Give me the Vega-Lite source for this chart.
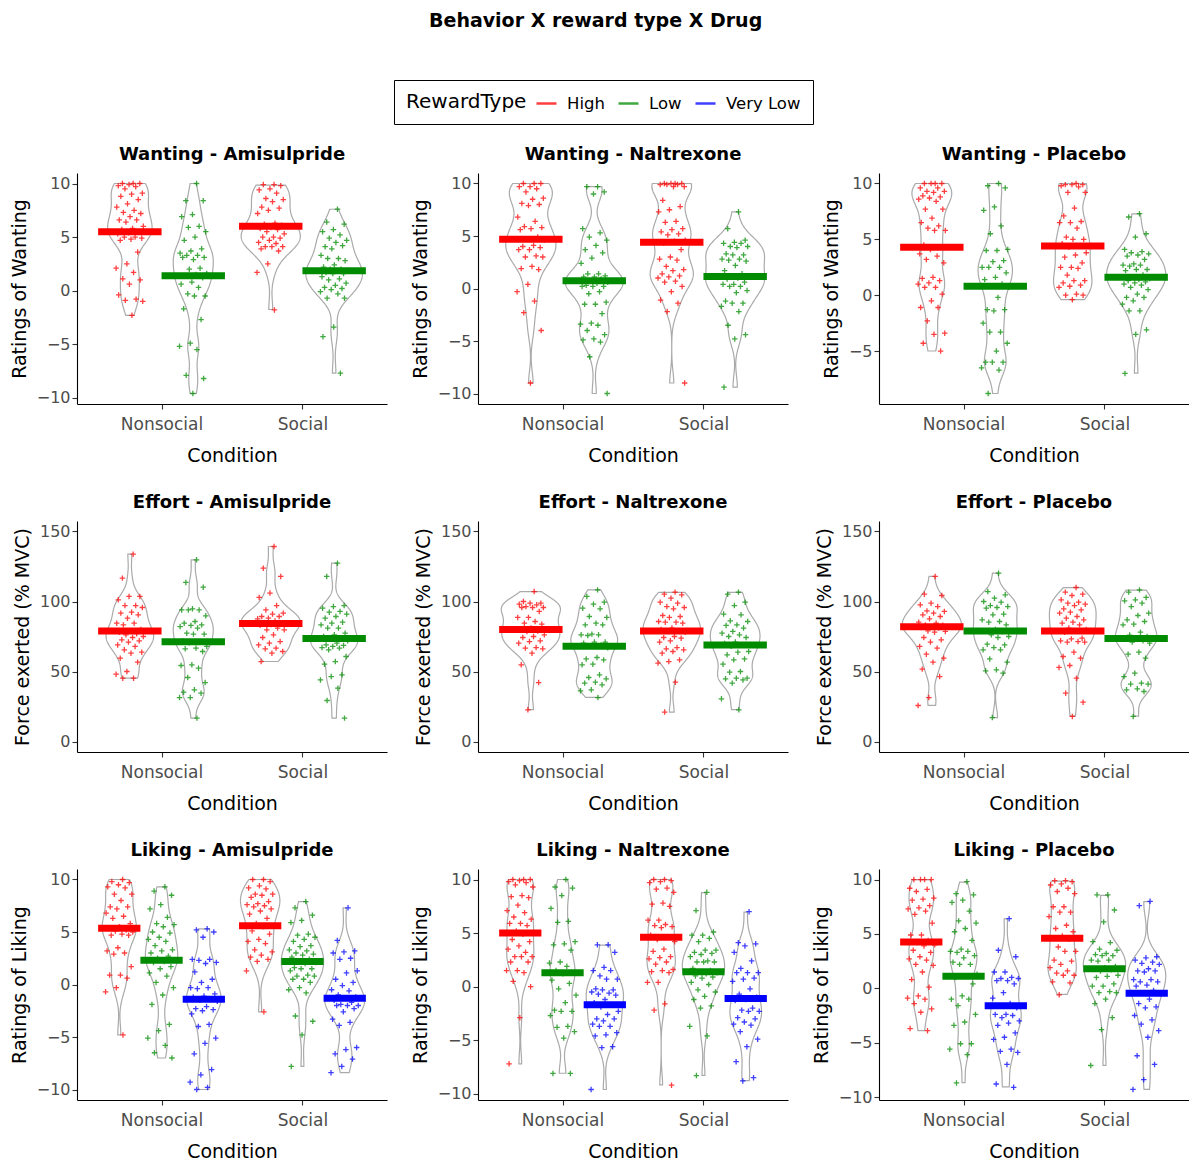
{
"$schema":"https://vega.github.io/schema/vega-lite/v6.json",
"padding":{"left":10,"top":11,"right":0,"bottom":0},
"title":{"text":"Behavior X reward type X Drug","anchor":"middle","fontSize":19,"fontWeight":"bold","offset":30,"dx":-4,"baseline":"bottom","color":"#000000"},
"datasets":{
"pts":[
{"b":"Wanting","d":"Amisulpride","c":"Nonsocial","r":"High","v":[10,10,10,9.9,9.8,9.7,9.5,9.1,9.0,8.8,8.5,8.1,7.8,7.5,7.3,7.2,6.9,6.6,6.6,6.4,6.0,5.8,5.7,5.5,5.4,5.3,5.0,5.0,4.9,4.8,4.7,3.6,2.5,2.1,1.7,1.1,1.0,0.6,-0.4,-0.8,-0.9,-1.0,-2.3]},
{"b":"Wanting","d":"Amisulpride","c":"Nonsocial","r":"Low","v":[10,8.4,8.4,7.1,6.9,6.0,5.9,5.5,5.0,4.7,3.9,3.7,3.5,3.3,3.3,3.1,2.9,3.1,2.1,2.0,1.6,1.5,1.4,1.2,0.8,0.6,0.3,-0.3,-0.5,-0.5,-1.7,-2.7,-4.9,-5.2,-5.5,-7.9,-8.2,-9.6]},
{"b":"Wanting","d":"Amisulpride","c":"Social","r":"High","v":[9.9,9.9,9.8,9.5,9.4,9.1,8.6,8.5,8.3,7.8,7.7,7.5,7.2,6.3,6.2,6.1,5.9,5.8,5.7,5.5,5.3,5.0,5.0,4.9,4.7,4.5,4.4,4.1,4.1,4.1,3.9,3.7,2.5,1.7,-1.8]},
{"b":"Wanting","d":"Amisulpride","c":"Social","r":"Low","v":[7.6,6.4,6.2,5.7,5.5,5.2,4.9,4.7,4.5,4.1,4.2,3.9,3.3,3.0,3.0,2.8,2.4,2.2,2.0,2.0,1.9,1.8,1.7,1.6,1.6,1.3,1.1,1.0,0.7,0.5,0.3,0.2,0.1,-0.1,-0.3,-0.7,-0.7,-3.4,-4.3,-7.7]},
{"b":"Wanting","d":"Naltrexone","c":"Nonsocial","r":"High","v":[10,10,10,9.7,9.7,9.5,9.2,8.6,8.5,8.1,8.0,7.9,6.8,6.4,5.9,5.8,5.7,5.6,4.9,4.7,4.6,4.1,4.0,3.9,3.7,3.7,3.1,3.0,3.0,2.1,1.9,1.8,0.4,-0.3,-1.2,-2.3,-4.0,-9.0]},
{"b":"Wanting","d":"Naltrexone","c":"Nonsocial","r":"Low","v":[9.7,9.7,9.2,9.0,5.7,5.3,4.9,4.6,4.1,3.7,3.4,2.9,2.4,1.4,1.4,1.2,1.1,1.1,0.9,0.7,0.6,0.5,0.3,0.2,0.2,0.2,-0.3,-0.5,-1.3,-1.5,-1.5,-2.4,-3.3,-3.4,-3.5,-4.0,-4.4,-4.8,-4.9,-5.1,-6.5,-10.0]},
{"b":"Wanting","d":"Naltrexone","c":"Social","r":"High","v":[10,10,10,10,9.9,9.9,9.9,9.7,9.7,8.4,7.8,7.5,7.3,6.4,6.3,5.7,5.6,5.4,5.2,5.1,4.6,4.5,4.3,3.7,3.0,2.8,2.7,2.1,1.8,1.7,1.4,1.2,1.1,1.0,0.7,0.6,0.2,-0.3,-1.1,-1.4,-2.2,-9.0]},
{"b":"Wanting","d":"Naltrexone","c":"Social","r":"Low","v":[7.3,5.7,4.6,4.4,4.3,4.3,4.0,4.0,3.9,3.3,3.2,3.2,2.8,2.8,2.7,2.6,2.2,1.7,1.4,1.2,1.1,1.0,0.9,0.6,0.4,0.4,0.2,0.2,-0.2,-0.4,-1.2,-1.4,-1.4,-1.7,-2.2,-3.5,-4.4,-4.8,-9.4]},
{"b":"Wanting","d":"Placebo","c":"Nonsocial","r":"High","v":[10,10,10,10,9.6,9.6,9.3,9.3,9.2,8.9,8.8,8.7,8.6,8.4,7.7,7.7,6.9,6.5,6.2,6.0,5.8,5.8,4.5,4.3,4.1,3.7,3.5,3.2,2.9,1.6,1.5,1.3,1.1,1.0,0.7,0.7,0.1,-0.5,-1.1,-1.1,-2.3,-3.4,-3.5,-4.3,-5.0]},
{"b":"Wanting","d":"Placebo","c":"Nonsocial","r":"Low","v":[10.0,9.8,9.6,7.9,7.6,6.2,5.5,4.1,4.0,4.0,3.1,3.0,2.5,2.5,2.5,2.0,1.6,1.4,1.0,0.8,0.7,-0.2,-1.3,-1.3,-1.4,-2.5,-3.3,-3.3,-4.3,-5.0,-6.0,-6.0,-6.0,-6.5,-6.7,-8.8]},
{"b":"Wanting","d":"Placebo","c":"Social","r":"High","v":[10,9.9,9.9,9.9,9.8,9.7,9.2,9.2,7.8,7.1,6.6,6.5,6.5,6.0,5.2,5.0,5.0,4.6,4.4,4.3,3.8,3.6,3.4,2.9,2.5,2.5,2.4,1.8,1.3,1.3,1.1,0.9,0.8,0.7,0.1,0.0,0.0,-0.4]},
{"b":"Wanting","d":"Placebo","c":"Social","r":"Low","v":[7.3,7.0,5.5,5.2,4.1,3.9,3.8,3.7,3.6,3.5,3.2,2.8,2.7,2.7,2.6,2.3,2.3,2.2,1.8,1.6,1.5,1.4,1.3,1.2,1.1,1.0,0.9,0.7,0.5,0.1,-0.2,-0.2,-0.5,-0.8,-1.4,-1.4,-3.1,-3.5,-7.0]},
{"b":"Effort","d":"Amisulpride","c":"Nonsocial","r":"High","v":[133.8,116.7,103.6,103.6,101.2,97.1,97.1,95.7,92.4,91.7,90.5,88.1,84.5,84.5,83.3,80,79,78,77,76.2,75.0,74.3,72.6,71.9,71.0,69.0,67.9,65.5,63.8,63.1,59.5,56.7,50,48.1,45.2,45.2]},
{"b":"Effort","d":"Amisulpride","c":"Nonsocial","r":"Low","v":[129.8,113.6,110.2,94.8,94.0,94.0,94.0,89.8,85.7,84.5,83.3,82.9,82.1,81.0,77.4,76.7,76.7,72,71,70.5,67.9,66.7,66.2,64.3,54.8,54.3,52.4,45.7,42.1,36.9,35.2,34.5,31.4,31.4,16.7]},
{"b":"Effort","d":"Amisulpride","c":"Social","r":"High","v":[139.3,123.8,117.9,106,102.9,97.1,94,91.7,91,89.3,89.3,88.1,87.6,86,85,84,83.5,83,81,79.8,79.8,76.2,74.3,71.4,70.2,69,66.7,66.2,64.3,63.1,57.1]},
{"b":"Effort","d":"Amisulpride","c":"Social","r":"Low","v":[127.4,117.9,97.1,96.4,95.2,92.9,92.4,91,89.3,88.1,85.2,84.5,83.3,81,81,77.4,76.2,75,74,73,72,70.2,69,68.6,67.9,67.1,66.7,65.5,60.7,57.1,55.2,47.6,46.4,44,38.1,29.3,16.7]},
{"b":"Effort","d":"Naltrexone","c":"Nonsocial","r":"High","v":[107.1,100,98.8,98.8,98.1,97.6,96.4,95.7,95.7,95.7,92.9,88.6,88.6,85.7,84.5,83.8,81,80,79,78.5,76.2,75,74.3,71.9,71.4,70.2,67.1,66.7,66.2,63.1,54.8,42.1,22.6]},
{"b":"Effort","d":"Naltrexone","c":"Nonsocial","r":"Low","v":[108.3,103.6,99.5,98.1,95.2,94.8,89.3,88.6,84.5,83.3,83.3,76.7,76.2,76.2,75.7,71,71,70.2,69,68,67,60,59,58.3,55.2,54.8,47.6,45.7,44.8,42.4,41.7,40.5,36.9,36.2,31.4]},
{"b":"Effort","d":"Naltrexone","c":"Social","r":"High","v":[106.7,105.2,104.8,102.4,99.5,98.8,96.4,95.7,94.8,90,89.3,88.6,85.7,85.2,85.2,84.5,81,80,79,78.5,78,75,74.3,73.8,71.9,71,67.1,66.2,65.5,64.3,63.1,58.3,57.1,56,42.4,21]},
{"b":"Effort","d":"Naltrexone","c":"Social","r":"Low","v":[106.7,105.2,99.5,97.1,91,90.5,86.2,85.7,83.3,82.9,81,78.6,77.4,76.2,75,74.3,71,70,69,68,64.3,63.8,61.9,59,58.3,55.2,50,49.5,45.2,45.2,44.8,44,41.7,30.5,22.6]},
{"b":"Effort","d":"Placebo","c":"Nonsocial","r":"High","v":[117.9,105.2,104.3,98.8,97.6,96.4,93.3,92.9,91.7,90.5,89.3,87.6,85.2,84.5,83.3,83,82,81.5,81,79,78.6,78.1,74.3,72.6,71,67.9,66.7,62.4,59.5,56.7,51.7,46.4,31.4,25.7]},
{"b":"Effort","d":"Placebo","c":"Nonsocial","r":"Low","v":[120.2,107.1,104.8,102.4,100,99.5,97.1,96.4,95.7,95.2,91,90.5,86.9,85.7,85.2,83.3,80,79,78.5,76.2,75,74.3,69.5,69,67.1,65.5,65.5,59,56.7,51.2,50.5,48.8,17.1]},
{"b":"Effort","d":"Placebo","c":"Social","r":"High","v":[110,106.7,105.2,104.3,101.2,99.5,98.8,98.1,97.1,94.8,94,92.4,91.7,89.3,88.1,86.9,85.2,84.5,83.3,81,80,79,78,73.8,73.3,71.9,71.4,71,71,63.8,60.7,59.5,54.3,52.9,45.2,34.5,28.1,17.9]},
{"b":"Effort","d":"Placebo","c":"Social","r":"Low","v":[108.3,106.7,102.9,101.2,100.5,98.8,96.4,91.7,90,86.9,85.7,83.8,83.3,78.1,76,75,74,73,72,71,70.2,63.8,62.4,59.5,48.8,46.4,41.7,41,41,37.6,36.9,35.7,17.9]},
{"b":"Liking","d":"Amisulpride","c":"Nonsocial","r":"High","v":[10,9.8,9.7,9.5,9.3,9.2,8.6,8.6,8.0,7.4,7.4,7.2,6.8,6.5,6.3,5.8,5.5,5.4,5.2,5.1,5.0,4.8,4.7,4.7,3.5,3.2,3.0,2.9,1.7,0.9,0.9,0.6,-0.3,-0.7,-4.8]},
{"b":"Liking","d":"Amisulpride","c":"Nonsocial","r":"Low","v":[9.3,8.9,8.5,7.6,7.2,6.4,5.8,5.7,5.5,5.0,4.9,4.5,4.3,4.1,3.7,3.3,3.2,3.0,2.7,2.5,2.3,2.2,2.1,1.7,1.5,1.1,0.8,0.2,-0.3,-1.0,-1.9,-3.8,-4.4,-5.1,-5.8,-6.5,-7.0]},
{"b":"Liking","d":"Amisulpride","c":"Nonsocial","r":"Very Low","v":[5.3,5.2,5.0,4.5,2.4,2.4,2.3,2.1,2.0,1.2,0.5,0.2,-0.3,-0.3,-0.4,-0.9,-1.1,-1.2,-1.4,-1.5,-1.6,-2.1,-2.3,-2.4,-2.5,-2.8,-3.8,-4.0,-5.1,-5.6,-6.6,-8.1,-8.6,-9.3,-9.8,-10.0]},
{"b":"Liking","d":"Amisulpride","c":"Social","r":"High","v":[10,10,9.8,9.4,9.2,9.1,8.6,8.6,8.5,8.3,7.9,7.7,7.6,7.5,7.4,7.2,7.0,6.7,6.3,5.8,5.6,5.5,5.1,4.8,4.3,4.1,3.9,3.3,3.1,2.8,2.6,2.4,2.2,1.3,-2.6]},
{"b":"Liking","d":"Amisulpride","c":"Social","r":"Low","v":[7.9,7.3,6.6,6.1,5.9,4.8,4.7,4.5,4.3,4.1,3.7,3.6,3.3,3.2,3.0,2.9,2.8,2.6,2.4,2.2,2.1,2.0,1.6,1.5,1.5,1.3,0.9,0.8,0.8,0.5,0.5,0.2,-0.3,-0.5,-0.8,-3.0,-3.5,-4.8,-7.8]},
{"b":"Liking","d":"Amisulpride","c":"Social","r":"Very Low","v":[7.3,4.2,3.2,3.1,3.0,2.5,2.4,1.3,1.1,0.5,0.2,-0.1,-0.5,-0.6,-1.0,-1.2,-1.3,-1.5,-1.7,-1.9,-2.0,-2.0,-2.0,-2.3,-2.6,-3.3,-3.6,-3.9,-6.0,-6.2,-6.6,-7.1,-7.8,-8.4]},
{"b":"Liking","d":"Naltrexone","c":"Nonsocial","r":"High","v":[10,10,10,9.9,9.8,9.7,9.5,9.3,8.5,8.4,8.3,7.6,7.1,6.9,6.5,6.3,5.9,5.9,5.7,5.2,5.0,4.9,4.4,4.2,3.8,3.5,3.2,2.8,2.8,2.8,2.3,2.3,1.5,1.5,1.3,0.5,0.0,-2.9,-7.2]},
{"b":"Liking","d":"Naltrexone","c":"Nonsocial","r":"Low","v":[10,9.3,9.2,8.5,7.3,6.1,6.0,4.2,4.0,3.9,3.4,2.3,2.2,1.9,1.5,1.3,1.2,0.6,0.3,-0.2,-0.8,-1.5,-2.2,-2.3,-2.3,-2.7,-3.7,-3.8,-4.2,-4.8,-8.1,-8.1]},
{"b":"Liking","d":"Naltrexone","c":"Nonsocial","r":"Very Low","v":[3.9,3.9,3.2,1.8,1.5,1.5,1.0,0.7,0.7,-0.2,-0.3,-0.3,-0.5,-0.6,-0.7,-0.8,-1.2,-1.5,-1.7,-1.9,-2.3,-2.6,-3.0,-3.0,-3.2,-3.5,-3.7,-3.7,-4.3,-4.5,-4.6,-5.6,-5.7,-9.6]},
{"b":"Liking","d":"Naltrexone","c":"Social","r":"High","v":[10,10,9.9,9.8,9.7,9.2,9.1,8.8,7.8,7.7,7.5,6.2,6.2,5.8,5.7,5.6,5.5,4.8,4.6,4.4,4.2,3.5,3.3,2.8,2.7,2.6,2.3,2.1,1.6,1.5,1.4,1.3,0.4,0.4,-1.6,-2.2,-9.2]},
{"b":"Liking","d":"Naltrexone","c":"Social","r":"Low","v":[8.8,7.1,5.1,4.8,4.8,4.5,4.2,3.4,3.4,3.2,3.1,3.0,2.8,2.4,2.3,2.3,2.3,1.7,1.5,1.4,1.3,1.2,1.0,0.9,0.8,0.4,0.2,-0.3,-0.5,-0.9,-1.2,-1.8,-2.0,-3.7,-4.6,-8.3]},
{"b":"Liking","d":"Naltrexone","c":"Social","r":"Very Low","v":[7.0,4.1,4.0,3.8,3.2,2.4,1.7,1.3,1.3,1.3,0.8,0.7,0.5,-0.2,-0.7,-1.0,-1.2,-1.3,-2.0,-2.2,-2.3,-2.3,-2.9,-3.0,-3.3,-3.5,-3.6,-4.2,-4.9,-5.6,-7.0,-8.5,-8.8]},
{"b":"Liking","d":"Placebo","c":"Nonsocial","r":"High","v":[10,10,10,10,9.2,9.1,8.9,8.3,8.2,8.1,7.6,7.4,7.3,7.1,6.8,6.0,4.9,4.9,4.4,4.2,4.0,3.9,3.5,3.3,2.9,2.7,2.6,2.2,2.1,1.5,0.8,0.1,-0.7,-0.9,-1.0,-1.4,-1.9,-2.2,-3.7,-3.9]},
{"b":"Liking","d":"Placebo","c":"Nonsocial","r":"Low","v":[9.8,8.7,8.6,8.1,7.9,7.1,6.2,6.0,5.5,5.2,4.4,3.6,3.4,3.4,3.3,3.0,2.8,2.4,2.2,2.2,1.3,1.1,1.0,0.4,-0.7,-1.0,-1.0,-1.6,-2.4,-3.1,-3.4,-5.1,-5.1,-5.6,-6.1,-8.7]},
{"b":"Liking","d":"Placebo","c":"Nonsocial","r":"Very Low","v":[6.4,3.5,2.9,1.5,1.5,1.0,0.9,0.9,0.7,0.7,0.4,-0.4,-0.9,-1.4,-1.6,-1.8,-2.4,-2.4,-2.5,-2.7,-3.0,-3.2,-3.4,-4.1,-4.5,-4.7,-5.6,-5.8,-5.9,-7.0,-8.8,-9.1]},
{"b":"Liking","d":"Placebo","c":"Social","r":"High","v":[9.9,9.9,9.8,9.6,9.5,9.2,8.9,8.7,7.5,7.5,7.0,7.0,6.6,5.8,5.5,5.2,4.8,4.6,4.5,3.8,3.4,3.4,2.6,2.5,2.2,1.9,1.6,1.4,1.2,1.2,0.6,0.5,-0.6]},
{"b":"Liking","d":"Placebo","c":"Social","r":"Low","v":[8.6,8.6,7.2,6.1,4.3,4.2,3.6,3.5,3.2,3.1,3.0,3.0,2.6,2.6,2.5,2.0,1.9,1.8,1.7,1.6,1.2,1.1,1.0,0.4,0.2,0.2,-0.3,-0.4,-0.4,-1.0,-1.4,-2.7,-3.8,-7.1]},
{"b":"Liking","d":"Placebo","c":"Social","r":"Very Low","v":[8.0,7.6,2.9,2.8,2.6,2.4,2.3,2.2,1.8,1.6,1.6,1.5,0.8,0.8,0.6,0.6,0.3,0.2,-0.2,-0.4,-0.5,-1.0,-1.4,-1.7,-1.8,-2.5,-2.9,-3.3,-3.9,-4.5,-6.2,-7.0,-8.4,-9.3]}
],
"means":[
{"b":"Wanting","d":"Amisulpride","c":"Nonsocial","r":"High","m":5.5},
{"b":"Wanting","d":"Amisulpride","c":"Nonsocial","r":"Low","m":1.4},
{"b":"Wanting","d":"Amisulpride","c":"Social","r":"High","m":6.0},
{"b":"Wanting","d":"Amisulpride","c":"Social","r":"Low","m":1.85},
{"b":"Wanting","d":"Naltrexone","c":"Nonsocial","r":"High","m":4.7},
{"b":"Wanting","d":"Naltrexone","c":"Nonsocial","r":"Low","m":0.75},
{"b":"Wanting","d":"Naltrexone","c":"Social","r":"High","m":4.4},
{"b":"Wanting","d":"Naltrexone","c":"Social","r":"Low","m":1.15},
{"b":"Wanting","d":"Placebo","c":"Nonsocial","r":"High","m":4.3},
{"b":"Wanting","d":"Placebo","c":"Nonsocial","r":"Low","m":0.8},
{"b":"Wanting","d":"Placebo","c":"Social","r":"High","m":4.4},
{"b":"Wanting","d":"Placebo","c":"Social","r":"Low","m":1.6},
{"b":"Effort","d":"Amisulpride","c":"Nonsocial","r":"High","m":79},
{"b":"Effort","d":"Amisulpride","c":"Nonsocial","r":"Low","m":71.3},
{"b":"Effort","d":"Amisulpride","c":"Social","r":"High","m":84.3},
{"b":"Effort","d":"Amisulpride","c":"Social","r":"Low","m":73.6},
{"b":"Effort","d":"Naltrexone","c":"Nonsocial","r":"High","m":80},
{"b":"Effort","d":"Naltrexone","c":"Nonsocial","r":"Low","m":68},
{"b":"Effort","d":"Naltrexone","c":"Social","r":"High","m":79},
{"b":"Effort","d":"Naltrexone","c":"Social","r":"Low","m":69},
{"b":"Effort","d":"Placebo","c":"Nonsocial","r":"High","m":82},
{"b":"Effort","d":"Placebo","c":"Nonsocial","r":"Low","m":79},
{"b":"Effort","d":"Placebo","c":"Social","r":"High","m":79},
{"b":"Effort","d":"Placebo","c":"Social","r":"Low","m":73.6},
{"b":"Liking","d":"Amisulpride","c":"Nonsocial","r":"High","m":5.35},
{"b":"Liking","d":"Amisulpride","c":"Nonsocial","r":"Low","m":2.3},
{"b":"Liking","d":"Amisulpride","c":"Nonsocial","r":"Very Low","m":-1.4},
{"b":"Liking","d":"Amisulpride","c":"Social","r":"High","m":5.6},
{"b":"Liking","d":"Amisulpride","c":"Social","r":"Low","m":2.2},
{"b":"Liking","d":"Amisulpride","c":"Social","r":"Very Low","m":-1.3},
{"b":"Liking","d":"Naltrexone","c":"Nonsocial","r":"High","m":5.0},
{"b":"Liking","d":"Naltrexone","c":"Nonsocial","r":"Low","m":1.3},
{"b":"Liking","d":"Naltrexone","c":"Nonsocial","r":"Very Low","m":-1.7},
{"b":"Liking","d":"Naltrexone","c":"Social","r":"High","m":4.6},
{"b":"Liking","d":"Naltrexone","c":"Social","r":"Low","m":1.4},
{"b":"Liking","d":"Naltrexone","c":"Social","r":"Very Low","m":-1.1},
{"b":"Liking","d":"Placebo","c":"Nonsocial","r":"High","m":4.25},
{"b":"Liking","d":"Placebo","c":"Nonsocial","r":"Low","m":1.1},
{"b":"Liking","d":"Placebo","c":"Nonsocial","r":"Very Low","m":-1.6},
{"b":"Liking","d":"Placebo","c":"Social","r":"High","m":4.6},
{"b":"Liking","d":"Placebo","c":"Social","r":"Low","m":1.8},
{"b":"Liking","d":"Placebo","c":"Social","r":"Very Low","m":-0.45}
]
},
"columns":3,
"spacing":{"row":29,"column":24},
"resolve":{"scale":{"x":"independent","y":"independent","color":"shared"}},
"concat":[
{"title":"Wanting - Amisulpride","width":310,"height":231,"layer":[
{"data":{"name":"pts"},"transform":[{"filter":"datum.b=='Wanting'&&datum.d=='Amisulpride'"},{"flatten":["v"]},{"joinaggregate":[{"op":"min","field":"v","as":"lo"},{"op":"max","field":"v","as":"hi"}],"groupby":["c","r"]},{"density":"v","groupby":["c","r","lo","hi"],"bandwidth":1.1,"steps":400,"as":["val","dens"]},{"filter":"datum.val>=datum.lo-0.0001&&datum.val<=datum.hi+0.0001"},{"joinaggregate":[{"op":"max","field":"dens","as":"dmax"}]},{"calculate":"(datum.c=='Nonsocial'?1:2)+(datum.r=='High'?-0.225:0.225)","as":"xc"},{"calculate":"datum.xc-0.21*datum.dens/datum.dmax","as":"xl"},{"calculate":"datum.xc+0.21*datum.dens/datum.dmax","as":"xr"}],
"mark":{"type":"area","orient":"horizontal","fillOpacity":0,"stroke":"#aaaaaa","strokeWidth":1.2},
"encoding":{"y":{"field":"val","type":"quantitative","scale":{"domain":[-10.58,10.98],"nice":false,"zero":false},"axis":{"values":[-10,-5,0,5,10],"title":"Ratings of Wanting"}},"x":{"field":"xl","type":"quantitative","stack":null,"scale":{"domain":[0.4,2.6],"nice":false,"zero":false},"axis":{"values":[1,2],"labelExpr":"datum.value==1?'Nonsocial':'Social'","title":"Condition"}},"x2":{"field":"xr"},"detail":[{"field":"c"},{"field":"r"}]}},
{"data":{"name":"pts"},"transform":[{"filter":"datum.b=='Wanting'&&datum.d=='Amisulpride'"},{"flatten":["v"]},{"window":[{"op":"row_number","as":"rn"}],"groupby":["c","r"]},{"calculate":"(datum.c=='Nonsocial'?1:2)+(datum.r=='High'?-0.225:0.225)","as":"xc"},{"calculate":"datum.xc+0.2*((datum.rn*0.618034)%1-0.5)","as":"xj"}],
"mark":{"type":"point","shape":"M-1,0L1,0M0,-1L0,1","filled":false,"size":30,"strokeWidth":1.3,"opacity":0.75},
"encoding":{"x":{"field":"xj","type":"quantitative","scale":{"domain":[0.4,2.6],"nice":false,"zero":false},"axis":{"values":[1,2],"labelExpr":"datum.value==1?'Nonsocial':'Social'","title":"Condition"}},"y":{"field":"v","type":"quantitative","scale":{"domain":[-10.58,10.98],"nice":false,"zero":false},"axis":{"values":[-10,-5,0,5,10],"title":"Ratings of Wanting"}},"color":{"field":"r","type":"nominal","scale":{"domain":["High","Low","Very Low"],"range":["#FF0000","#008B00","#0000FF"]},"legend":{"orient":"none","legendX":317,"legendY":-93,"direction":"horizontal","titleOrient":"left","title":"RewardType","symbolType":"stroke","symbolSize":400,"symbolStrokeWidth":2.5,"strokeColor":"#000000","padding":12,"titleFontSize":20,"titleFontWeight":"normal","titleColor":"#000000","labelFontSize":16.5,"labelColor":"#000000","labelOffset":9,"columnPadding":8,"titlePadding":8}}}},
{"data":{"name":"means"},"transform":[{"filter":"datum.b=='Wanting'&&datum.d=='Amisulpride'"},{"calculate":"(datum.c=='Nonsocial'?1:2)+(datum.r=='High'?-0.225:0.225)","as":"xc"},{"calculate":"datum.xc-0.225","as":"x1"},{"calculate":"datum.xc+0.225","as":"x2"}],
"mark":{"type":"rule","strokeWidth":7,"strokeCap":"butt"},
"encoding":{"x":{"field":"x1","type":"quantitative","scale":{"domain":[0.4,2.6],"nice":false,"zero":false},"axis":{"values":[1,2],"labelExpr":"datum.value==1?'Nonsocial':'Social'","title":"Condition"}},"x2":{"field":"x2"},"y":{"field":"m","type":"quantitative","scale":{"domain":[-10.58,10.98],"nice":false,"zero":false},"axis":{"values":[-10,-5,0,5,10],"title":"Ratings of Wanting"}},"color":{"field":"r","type":"nominal","scale":{"domain":["High","Low","Very Low"],"range":["#FF0000","#008B00","#0000FF"]},"legend":{"orient":"none","legendX":317,"legendY":-93,"direction":"horizontal","titleOrient":"left","title":"RewardType","symbolType":"stroke","symbolSize":400,"symbolStrokeWidth":2.5,"strokeColor":"#000000","padding":12,"titleFontSize":20,"titleFontWeight":"normal","titleColor":"#000000","labelFontSize":16.5,"labelColor":"#000000","labelOffset":9,"columnPadding":8,"titlePadding":8}}}}
]},
{"title":"Wanting - Naltrexone","width":310,"height":231,"layer":[
{"data":{"name":"pts"},"transform":[{"filter":"datum.b=='Wanting'&&datum.d=='Naltrexone'"},{"flatten":["v"]},{"joinaggregate":[{"op":"min","field":"v","as":"lo"},{"op":"max","field":"v","as":"hi"}],"groupby":["c","r"]},{"density":"v","groupby":["c","r","lo","hi"],"bandwidth":1.1,"steps":400,"as":["val","dens"]},{"filter":"datum.val>=datum.lo-0.0001&&datum.val<=datum.hi+0.0001"},{"joinaggregate":[{"op":"max","field":"dens","as":"dmax"}]},{"calculate":"(datum.c=='Nonsocial'?1:2)+(datum.r=='High'?-0.225:0.225)","as":"xc"},{"calculate":"datum.xc-0.21*datum.dens/datum.dmax","as":"xl"},{"calculate":"datum.xc+0.21*datum.dens/datum.dmax","as":"xr"}],
"mark":{"type":"area","orient":"horizontal","fillOpacity":0,"stroke":"#aaaaaa","strokeWidth":1.2},
"encoding":{"y":{"field":"val","type":"quantitative","scale":{"domain":[-11,11],"nice":false,"zero":false},"axis":{"values":[-10,-5,0,5,10],"title":"Ratings of Wanting"}},"x":{"field":"xl","type":"quantitative","stack":null,"scale":{"domain":[0.4,2.6],"nice":false,"zero":false},"axis":{"values":[1,2],"labelExpr":"datum.value==1?'Nonsocial':'Social'","title":"Condition"}},"x2":{"field":"xr"},"detail":[{"field":"c"},{"field":"r"}]}},
{"data":{"name":"pts"},"transform":[{"filter":"datum.b=='Wanting'&&datum.d=='Naltrexone'"},{"flatten":["v"]},{"window":[{"op":"row_number","as":"rn"}],"groupby":["c","r"]},{"calculate":"(datum.c=='Nonsocial'?1:2)+(datum.r=='High'?-0.225:0.225)","as":"xc"},{"calculate":"datum.xc+0.2*((datum.rn*0.618034)%1-0.5)","as":"xj"}],
"mark":{"type":"point","shape":"M-1,0L1,0M0,-1L0,1","filled":false,"size":30,"strokeWidth":1.3,"opacity":0.75},
"encoding":{"x":{"field":"xj","type":"quantitative","scale":{"domain":[0.4,2.6],"nice":false,"zero":false},"axis":{"values":[1,2],"labelExpr":"datum.value==1?'Nonsocial':'Social'","title":"Condition"}},"y":{"field":"v","type":"quantitative","scale":{"domain":[-11,11],"nice":false,"zero":false},"axis":{"values":[-10,-5,0,5,10],"title":"Ratings of Wanting"}},"color":{"field":"r","type":"nominal","scale":{"domain":["High","Low","Very Low"],"range":["#FF0000","#008B00","#0000FF"]},"legend":{"orient":"none","legendX":317,"legendY":-93,"direction":"horizontal","titleOrient":"left","title":"RewardType","symbolType":"stroke","symbolSize":400,"symbolStrokeWidth":2.5,"strokeColor":"#000000","padding":12,"titleFontSize":20,"titleFontWeight":"normal","titleColor":"#000000","labelFontSize":16.5,"labelColor":"#000000","labelOffset":9,"columnPadding":8,"titlePadding":8}}}},
{"data":{"name":"means"},"transform":[{"filter":"datum.b=='Wanting'&&datum.d=='Naltrexone'"},{"calculate":"(datum.c=='Nonsocial'?1:2)+(datum.r=='High'?-0.225:0.225)","as":"xc"},{"calculate":"datum.xc-0.225","as":"x1"},{"calculate":"datum.xc+0.225","as":"x2"}],
"mark":{"type":"rule","strokeWidth":7,"strokeCap":"butt"},
"encoding":{"x":{"field":"x1","type":"quantitative","scale":{"domain":[0.4,2.6],"nice":false,"zero":false},"axis":{"values":[1,2],"labelExpr":"datum.value==1?'Nonsocial':'Social'","title":"Condition"}},"x2":{"field":"x2"},"y":{"field":"m","type":"quantitative","scale":{"domain":[-11,11],"nice":false,"zero":false},"axis":{"values":[-10,-5,0,5,10],"title":"Ratings of Wanting"}},"color":{"field":"r","type":"nominal","scale":{"domain":["High","Low","Very Low"],"range":["#FF0000","#008B00","#0000FF"]},"legend":{"orient":"none","legendX":317,"legendY":-93,"direction":"horizontal","titleOrient":"left","title":"RewardType","symbolType":"stroke","symbolSize":400,"symbolStrokeWidth":2.5,"strokeColor":"#000000","padding":12,"titleFontSize":20,"titleFontWeight":"normal","titleColor":"#000000","labelFontSize":16.5,"labelColor":"#000000","labelOffset":9,"columnPadding":8,"titlePadding":8}}}}
]},
{"title":"Wanting - Placebo","width":310,"height":231,"layer":[
{"data":{"name":"pts"},"transform":[{"filter":"datum.b=='Wanting'&&datum.d=='Placebo'"},{"flatten":["v"]},{"joinaggregate":[{"op":"min","field":"v","as":"lo"},{"op":"max","field":"v","as":"hi"}],"groupby":["c","r"]},{"density":"v","groupby":["c","r","lo","hi"],"bandwidth":1.1,"steps":400,"as":["val","dens"]},{"filter":"datum.val>=datum.lo-0.0001&&datum.val<=datum.hi+0.0001"},{"joinaggregate":[{"op":"max","field":"dens","as":"dmax"}]},{"calculate":"(datum.c=='Nonsocial'?1:2)+(datum.r=='High'?-0.225:0.225)","as":"xc"},{"calculate":"datum.xc-0.21*datum.dens/datum.dmax","as":"xl"},{"calculate":"datum.xc+0.21*datum.dens/datum.dmax","as":"xr"}],
"mark":{"type":"area","orient":"horizontal","fillOpacity":0,"stroke":"#aaaaaa","strokeWidth":1.2},
"encoding":{"y":{"field":"val","type":"quantitative","scale":{"domain":[-9.74,10.94],"nice":false,"zero":false},"axis":{"values":[-5,0,5,10],"title":"Ratings of Wanting"}},"x":{"field":"xl","type":"quantitative","stack":null,"scale":{"domain":[0.4,2.6],"nice":false,"zero":false},"axis":{"values":[1,2],"labelExpr":"datum.value==1?'Nonsocial':'Social'","title":"Condition"}},"x2":{"field":"xr"},"detail":[{"field":"c"},{"field":"r"}]}},
{"data":{"name":"pts"},"transform":[{"filter":"datum.b=='Wanting'&&datum.d=='Placebo'"},{"flatten":["v"]},{"window":[{"op":"row_number","as":"rn"}],"groupby":["c","r"]},{"calculate":"(datum.c=='Nonsocial'?1:2)+(datum.r=='High'?-0.225:0.225)","as":"xc"},{"calculate":"datum.xc+0.2*((datum.rn*0.618034)%1-0.5)","as":"xj"}],
"mark":{"type":"point","shape":"M-1,0L1,0M0,-1L0,1","filled":false,"size":30,"strokeWidth":1.3,"opacity":0.75},
"encoding":{"x":{"field":"xj","type":"quantitative","scale":{"domain":[0.4,2.6],"nice":false,"zero":false},"axis":{"values":[1,2],"labelExpr":"datum.value==1?'Nonsocial':'Social'","title":"Condition"}},"y":{"field":"v","type":"quantitative","scale":{"domain":[-9.74,10.94],"nice":false,"zero":false},"axis":{"values":[-5,0,5,10],"title":"Ratings of Wanting"}},"color":{"field":"r","type":"nominal","scale":{"domain":["High","Low","Very Low"],"range":["#FF0000","#008B00","#0000FF"]},"legend":{"orient":"none","legendX":317,"legendY":-93,"direction":"horizontal","titleOrient":"left","title":"RewardType","symbolType":"stroke","symbolSize":400,"symbolStrokeWidth":2.5,"strokeColor":"#000000","padding":12,"titleFontSize":20,"titleFontWeight":"normal","titleColor":"#000000","labelFontSize":16.5,"labelColor":"#000000","labelOffset":9,"columnPadding":8,"titlePadding":8}}}},
{"data":{"name":"means"},"transform":[{"filter":"datum.b=='Wanting'&&datum.d=='Placebo'"},{"calculate":"(datum.c=='Nonsocial'?1:2)+(datum.r=='High'?-0.225:0.225)","as":"xc"},{"calculate":"datum.xc-0.225","as":"x1"},{"calculate":"datum.xc+0.225","as":"x2"}],
"mark":{"type":"rule","strokeWidth":7,"strokeCap":"butt"},
"encoding":{"x":{"field":"x1","type":"quantitative","scale":{"domain":[0.4,2.6],"nice":false,"zero":false},"axis":{"values":[1,2],"labelExpr":"datum.value==1?'Nonsocial':'Social'","title":"Condition"}},"x2":{"field":"x2"},"y":{"field":"m","type":"quantitative","scale":{"domain":[-9.74,10.94],"nice":false,"zero":false},"axis":{"values":[-5,0,5,10],"title":"Ratings of Wanting"}},"color":{"field":"r","type":"nominal","scale":{"domain":["High","Low","Very Low"],"range":["#FF0000","#008B00","#0000FF"]},"legend":{"orient":"none","legendX":317,"legendY":-93,"direction":"horizontal","titleOrient":"left","title":"RewardType","symbolType":"stroke","symbolSize":400,"symbolStrokeWidth":2.5,"strokeColor":"#000000","padding":12,"titleFontSize":20,"titleFontWeight":"normal","titleColor":"#000000","labelFontSize":16.5,"labelColor":"#000000","labelOffset":9,"columnPadding":8,"titlePadding":8}}}}
]},
{"title":"Effort - Amisulpride","width":310,"height":231,"layer":[
{"data":{"name":"pts"},"transform":[{"filter":"datum.b=='Effort'&&datum.d=='Amisulpride'"},{"flatten":["v"]},{"joinaggregate":[{"op":"min","field":"v","as":"lo"},{"op":"max","field":"v","as":"hi"}],"groupby":["c","r"]},{"density":"v","groupby":["c","r","lo","hi"],"bandwidth":6.5,"steps":400,"as":["val","dens"]},{"filter":"datum.val>=datum.lo-0.001&&datum.val<=datum.hi+0.001"},{"joinaggregate":[{"op":"max","field":"dens","as":"dmax"}]},{"calculate":"(datum.c=='Nonsocial'?1:2)+(datum.r=='High'?-0.225:0.225)","as":"xc"},{"calculate":"datum.xc-0.21*datum.dens/datum.dmax","as":"xl"},{"calculate":"datum.xc+0.21*datum.dens/datum.dmax","as":"xr"}],
"mark":{"type":"area","orient":"horizontal","fillOpacity":0,"stroke":"#aaaaaa","strokeWidth":1.2},
"encoding":{"y":{"field":"val","type":"quantitative","scale":{"domain":[-7.5,157.5],"nice":false,"zero":false},"axis":{"values":[0,50,100,150],"title":"Force exerted (% MVC)"}},"x":{"field":"xl","type":"quantitative","stack":null,"scale":{"domain":[0.4,2.6],"nice":false,"zero":false},"axis":{"values":[1,2],"labelExpr":"datum.value==1?'Nonsocial':'Social'","title":"Condition"}},"x2":{"field":"xr"},"detail":[{"field":"c"},{"field":"r"}]}},
{"data":{"name":"pts"},"transform":[{"filter":"datum.b=='Effort'&&datum.d=='Amisulpride'"},{"flatten":["v"]},{"window":[{"op":"row_number","as":"rn"}],"groupby":["c","r"]},{"calculate":"(datum.c=='Nonsocial'?1:2)+(datum.r=='High'?-0.225:0.225)","as":"xc"},{"calculate":"datum.xc+0.2*((datum.rn*0.618034)%1-0.5)","as":"xj"}],
"mark":{"type":"point","shape":"M-1,0L1,0M0,-1L0,1","filled":false,"size":30,"strokeWidth":1.3,"opacity":0.75},
"encoding":{"x":{"field":"xj","type":"quantitative","scale":{"domain":[0.4,2.6],"nice":false,"zero":false},"axis":{"values":[1,2],"labelExpr":"datum.value==1?'Nonsocial':'Social'","title":"Condition"}},"y":{"field":"v","type":"quantitative","scale":{"domain":[-7.5,157.5],"nice":false,"zero":false},"axis":{"values":[0,50,100,150],"title":"Force exerted (% MVC)"}},"color":{"field":"r","type":"nominal","scale":{"domain":["High","Low","Very Low"],"range":["#FF0000","#008B00","#0000FF"]},"legend":{"orient":"none","legendX":317,"legendY":-93,"direction":"horizontal","titleOrient":"left","title":"RewardType","symbolType":"stroke","symbolSize":400,"symbolStrokeWidth":2.5,"strokeColor":"#000000","padding":12,"titleFontSize":20,"titleFontWeight":"normal","titleColor":"#000000","labelFontSize":16.5,"labelColor":"#000000","labelOffset":9,"columnPadding":8,"titlePadding":8}}}},
{"data":{"name":"means"},"transform":[{"filter":"datum.b=='Effort'&&datum.d=='Amisulpride'"},{"calculate":"(datum.c=='Nonsocial'?1:2)+(datum.r=='High'?-0.225:0.225)","as":"xc"},{"calculate":"datum.xc-0.225","as":"x1"},{"calculate":"datum.xc+0.225","as":"x2"}],
"mark":{"type":"rule","strokeWidth":7,"strokeCap":"butt"},
"encoding":{"x":{"field":"x1","type":"quantitative","scale":{"domain":[0.4,2.6],"nice":false,"zero":false},"axis":{"values":[1,2],"labelExpr":"datum.value==1?'Nonsocial':'Social'","title":"Condition"}},"x2":{"field":"x2"},"y":{"field":"m","type":"quantitative","scale":{"domain":[-7.5,157.5],"nice":false,"zero":false},"axis":{"values":[0,50,100,150],"title":"Force exerted (% MVC)"}},"color":{"field":"r","type":"nominal","scale":{"domain":["High","Low","Very Low"],"range":["#FF0000","#008B00","#0000FF"]},"legend":{"orient":"none","legendX":317,"legendY":-93,"direction":"horizontal","titleOrient":"left","title":"RewardType","symbolType":"stroke","symbolSize":400,"symbolStrokeWidth":2.5,"strokeColor":"#000000","padding":12,"titleFontSize":20,"titleFontWeight":"normal","titleColor":"#000000","labelFontSize":16.5,"labelColor":"#000000","labelOffset":9,"columnPadding":8,"titlePadding":8}}}}
]},
{"title":"Effort - Naltrexone","width":310,"height":231,"layer":[
{"data":{"name":"pts"},"transform":[{"filter":"datum.b=='Effort'&&datum.d=='Naltrexone'"},{"flatten":["v"]},{"joinaggregate":[{"op":"min","field":"v","as":"lo"},{"op":"max","field":"v","as":"hi"}],"groupby":["c","r"]},{"density":"v","groupby":["c","r","lo","hi"],"bandwidth":6.5,"steps":400,"as":["val","dens"]},{"filter":"datum.val>=datum.lo-0.001&&datum.val<=datum.hi+0.001"},{"joinaggregate":[{"op":"max","field":"dens","as":"dmax"}]},{"calculate":"(datum.c=='Nonsocial'?1:2)+(datum.r=='High'?-0.225:0.225)","as":"xc"},{"calculate":"datum.xc-0.21*datum.dens/datum.dmax","as":"xl"},{"calculate":"datum.xc+0.21*datum.dens/datum.dmax","as":"xr"}],
"mark":{"type":"area","orient":"horizontal","fillOpacity":0,"stroke":"#aaaaaa","strokeWidth":1.2},
"encoding":{"y":{"field":"val","type":"quantitative","scale":{"domain":[-7.5,157.5],"nice":false,"zero":false},"axis":{"values":[0,50,100,150],"title":"Force exerted (% MVC)"}},"x":{"field":"xl","type":"quantitative","stack":null,"scale":{"domain":[0.4,2.6],"nice":false,"zero":false},"axis":{"values":[1,2],"labelExpr":"datum.value==1?'Nonsocial':'Social'","title":"Condition"}},"x2":{"field":"xr"},"detail":[{"field":"c"},{"field":"r"}]}},
{"data":{"name":"pts"},"transform":[{"filter":"datum.b=='Effort'&&datum.d=='Naltrexone'"},{"flatten":["v"]},{"window":[{"op":"row_number","as":"rn"}],"groupby":["c","r"]},{"calculate":"(datum.c=='Nonsocial'?1:2)+(datum.r=='High'?-0.225:0.225)","as":"xc"},{"calculate":"datum.xc+0.2*((datum.rn*0.618034)%1-0.5)","as":"xj"}],
"mark":{"type":"point","shape":"M-1,0L1,0M0,-1L0,1","filled":false,"size":30,"strokeWidth":1.3,"opacity":0.75},
"encoding":{"x":{"field":"xj","type":"quantitative","scale":{"domain":[0.4,2.6],"nice":false,"zero":false},"axis":{"values":[1,2],"labelExpr":"datum.value==1?'Nonsocial':'Social'","title":"Condition"}},"y":{"field":"v","type":"quantitative","scale":{"domain":[-7.5,157.5],"nice":false,"zero":false},"axis":{"values":[0,50,100,150],"title":"Force exerted (% MVC)"}},"color":{"field":"r","type":"nominal","scale":{"domain":["High","Low","Very Low"],"range":["#FF0000","#008B00","#0000FF"]},"legend":{"orient":"none","legendX":317,"legendY":-93,"direction":"horizontal","titleOrient":"left","title":"RewardType","symbolType":"stroke","symbolSize":400,"symbolStrokeWidth":2.5,"strokeColor":"#000000","padding":12,"titleFontSize":20,"titleFontWeight":"normal","titleColor":"#000000","labelFontSize":16.5,"labelColor":"#000000","labelOffset":9,"columnPadding":8,"titlePadding":8}}}},
{"data":{"name":"means"},"transform":[{"filter":"datum.b=='Effort'&&datum.d=='Naltrexone'"},{"calculate":"(datum.c=='Nonsocial'?1:2)+(datum.r=='High'?-0.225:0.225)","as":"xc"},{"calculate":"datum.xc-0.225","as":"x1"},{"calculate":"datum.xc+0.225","as":"x2"}],
"mark":{"type":"rule","strokeWidth":7,"strokeCap":"butt"},
"encoding":{"x":{"field":"x1","type":"quantitative","scale":{"domain":[0.4,2.6],"nice":false,"zero":false},"axis":{"values":[1,2],"labelExpr":"datum.value==1?'Nonsocial':'Social'","title":"Condition"}},"x2":{"field":"x2"},"y":{"field":"m","type":"quantitative","scale":{"domain":[-7.5,157.5],"nice":false,"zero":false},"axis":{"values":[0,50,100,150],"title":"Force exerted (% MVC)"}},"color":{"field":"r","type":"nominal","scale":{"domain":["High","Low","Very Low"],"range":["#FF0000","#008B00","#0000FF"]},"legend":{"orient":"none","legendX":317,"legendY":-93,"direction":"horizontal","titleOrient":"left","title":"RewardType","symbolType":"stroke","symbolSize":400,"symbolStrokeWidth":2.5,"strokeColor":"#000000","padding":12,"titleFontSize":20,"titleFontWeight":"normal","titleColor":"#000000","labelFontSize":16.5,"labelColor":"#000000","labelOffset":9,"columnPadding":8,"titlePadding":8}}}}
]},
{"title":"Effort - Placebo","width":310,"height":231,"layer":[
{"data":{"name":"pts"},"transform":[{"filter":"datum.b=='Effort'&&datum.d=='Placebo'"},{"flatten":["v"]},{"joinaggregate":[{"op":"min","field":"v","as":"lo"},{"op":"max","field":"v","as":"hi"}],"groupby":["c","r"]},{"density":"v","groupby":["c","r","lo","hi"],"bandwidth":6.5,"steps":400,"as":["val","dens"]},{"filter":"datum.val>=datum.lo-0.001&&datum.val<=datum.hi+0.001"},{"joinaggregate":[{"op":"max","field":"dens","as":"dmax"}]},{"calculate":"(datum.c=='Nonsocial'?1:2)+(datum.r=='High'?-0.225:0.225)","as":"xc"},{"calculate":"datum.xc-0.21*datum.dens/datum.dmax","as":"xl"},{"calculate":"datum.xc+0.21*datum.dens/datum.dmax","as":"xr"}],
"mark":{"type":"area","orient":"horizontal","fillOpacity":0,"stroke":"#aaaaaa","strokeWidth":1.2},
"encoding":{"y":{"field":"val","type":"quantitative","scale":{"domain":[-7.5,157.5],"nice":false,"zero":false},"axis":{"values":[0,50,100,150],"title":"Force exerted (% MVC)"}},"x":{"field":"xl","type":"quantitative","stack":null,"scale":{"domain":[0.4,2.6],"nice":false,"zero":false},"axis":{"values":[1,2],"labelExpr":"datum.value==1?'Nonsocial':'Social'","title":"Condition"}},"x2":{"field":"xr"},"detail":[{"field":"c"},{"field":"r"}]}},
{"data":{"name":"pts"},"transform":[{"filter":"datum.b=='Effort'&&datum.d=='Placebo'"},{"flatten":["v"]},{"window":[{"op":"row_number","as":"rn"}],"groupby":["c","r"]},{"calculate":"(datum.c=='Nonsocial'?1:2)+(datum.r=='High'?-0.225:0.225)","as":"xc"},{"calculate":"datum.xc+0.2*((datum.rn*0.618034)%1-0.5)","as":"xj"}],
"mark":{"type":"point","shape":"M-1,0L1,0M0,-1L0,1","filled":false,"size":30,"strokeWidth":1.3,"opacity":0.75},
"encoding":{"x":{"field":"xj","type":"quantitative","scale":{"domain":[0.4,2.6],"nice":false,"zero":false},"axis":{"values":[1,2],"labelExpr":"datum.value==1?'Nonsocial':'Social'","title":"Condition"}},"y":{"field":"v","type":"quantitative","scale":{"domain":[-7.5,157.5],"nice":false,"zero":false},"axis":{"values":[0,50,100,150],"title":"Force exerted (% MVC)"}},"color":{"field":"r","type":"nominal","scale":{"domain":["High","Low","Very Low"],"range":["#FF0000","#008B00","#0000FF"]},"legend":{"orient":"none","legendX":317,"legendY":-93,"direction":"horizontal","titleOrient":"left","title":"RewardType","symbolType":"stroke","symbolSize":400,"symbolStrokeWidth":2.5,"strokeColor":"#000000","padding":12,"titleFontSize":20,"titleFontWeight":"normal","titleColor":"#000000","labelFontSize":16.5,"labelColor":"#000000","labelOffset":9,"columnPadding":8,"titlePadding":8}}}},
{"data":{"name":"means"},"transform":[{"filter":"datum.b=='Effort'&&datum.d=='Placebo'"},{"calculate":"(datum.c=='Nonsocial'?1:2)+(datum.r=='High'?-0.225:0.225)","as":"xc"},{"calculate":"datum.xc-0.225","as":"x1"},{"calculate":"datum.xc+0.225","as":"x2"}],
"mark":{"type":"rule","strokeWidth":7,"strokeCap":"butt"},
"encoding":{"x":{"field":"x1","type":"quantitative","scale":{"domain":[0.4,2.6],"nice":false,"zero":false},"axis":{"values":[1,2],"labelExpr":"datum.value==1?'Nonsocial':'Social'","title":"Condition"}},"x2":{"field":"x2"},"y":{"field":"m","type":"quantitative","scale":{"domain":[-7.5,157.5],"nice":false,"zero":false},"axis":{"values":[0,50,100,150],"title":"Force exerted (% MVC)"}},"color":{"field":"r","type":"nominal","scale":{"domain":["High","Low","Very Low"],"range":["#FF0000","#008B00","#0000FF"]},"legend":{"orient":"none","legendX":317,"legendY":-93,"direction":"horizontal","titleOrient":"left","title":"RewardType","symbolType":"stroke","symbolSize":400,"symbolStrokeWidth":2.5,"strokeColor":"#000000","padding":12,"titleFontSize":20,"titleFontWeight":"normal","titleColor":"#000000","labelFontSize":16.5,"labelColor":"#000000","labelOffset":9,"columnPadding":8,"titlePadding":8}}}}
]},
{"title":"Liking - Amisulpride","width":310,"height":231,"layer":[
{"data":{"name":"pts"},"transform":[{"filter":"datum.b=='Liking'&&datum.d=='Amisulpride'"},{"flatten":["v"]},{"joinaggregate":[{"op":"min","field":"v","as":"lo"},{"op":"max","field":"v","as":"hi"}],"groupby":["c","r"]},{"density":"v","groupby":["c","r","lo","hi"],"bandwidth":1.1,"steps":400,"as":["val","dens"]},{"filter":"datum.val>=datum.lo-0.0001&&datum.val<=datum.hi+0.0001"},{"joinaggregate":[{"op":"max","field":"dens","as":"dmax"}]},{"calculate":"(datum.c=='Nonsocial'?1:2)+(datum.r=='High'?-0.3:(datum.r=='Low'?0:0.3))","as":"xc"},{"calculate":"datum.xc-0.15*datum.dens/datum.dmax","as":"xl"},{"calculate":"datum.xc+0.15*datum.dens/datum.dmax","as":"xr"}],
"mark":{"type":"area","orient":"horizontal","fillOpacity":0,"stroke":"#aaaaaa","strokeWidth":1.2},
"encoding":{"y":{"field":"val","type":"quantitative","scale":{"domain":[-11,11],"nice":false,"zero":false},"axis":{"values":[-10,-5,0,5,10],"title":"Ratings of Liking"}},"x":{"field":"xl","type":"quantitative","stack":null,"scale":{"domain":[0.4,2.6],"nice":false,"zero":false},"axis":{"values":[1,2],"labelExpr":"datum.value==1?'Nonsocial':'Social'","title":"Condition"}},"x2":{"field":"xr"},"detail":[{"field":"c"},{"field":"r"}]}},
{"data":{"name":"pts"},"transform":[{"filter":"datum.b=='Liking'&&datum.d=='Amisulpride'"},{"flatten":["v"]},{"window":[{"op":"row_number","as":"rn"}],"groupby":["c","r"]},{"calculate":"(datum.c=='Nonsocial'?1:2)+(datum.r=='High'?-0.3:(datum.r=='Low'?0:0.3))","as":"xc"},{"calculate":"datum.xc+0.2*((datum.rn*0.618034)%1-0.5)","as":"xj"}],
"mark":{"type":"point","shape":"M-1,0L1,0M0,-1L0,1","filled":false,"size":30,"strokeWidth":1.3,"opacity":0.75},
"encoding":{"x":{"field":"xj","type":"quantitative","scale":{"domain":[0.4,2.6],"nice":false,"zero":false},"axis":{"values":[1,2],"labelExpr":"datum.value==1?'Nonsocial':'Social'","title":"Condition"}},"y":{"field":"v","type":"quantitative","scale":{"domain":[-11,11],"nice":false,"zero":false},"axis":{"values":[-10,-5,0,5,10],"title":"Ratings of Liking"}},"color":{"field":"r","type":"nominal","scale":{"domain":["High","Low","Very Low"],"range":["#FF0000","#008B00","#0000FF"]},"legend":{"orient":"none","legendX":317,"legendY":-93,"direction":"horizontal","titleOrient":"left","title":"RewardType","symbolType":"stroke","symbolSize":400,"symbolStrokeWidth":2.5,"strokeColor":"#000000","padding":12,"titleFontSize":20,"titleFontWeight":"normal","titleColor":"#000000","labelFontSize":16.5,"labelColor":"#000000","labelOffset":9,"columnPadding":8,"titlePadding":8}}}},
{"data":{"name":"means"},"transform":[{"filter":"datum.b=='Liking'&&datum.d=='Amisulpride'"},{"calculate":"(datum.c=='Nonsocial'?1:2)+(datum.r=='High'?-0.3:(datum.r=='Low'?0:0.3))","as":"xc"},{"calculate":"datum.xc-0.15","as":"x1"},{"calculate":"datum.xc+0.15","as":"x2"}],
"mark":{"type":"rule","strokeWidth":7,"strokeCap":"butt"},
"encoding":{"x":{"field":"x1","type":"quantitative","scale":{"domain":[0.4,2.6],"nice":false,"zero":false},"axis":{"values":[1,2],"labelExpr":"datum.value==1?'Nonsocial':'Social'","title":"Condition"}},"x2":{"field":"x2"},"y":{"field":"m","type":"quantitative","scale":{"domain":[-11,11],"nice":false,"zero":false},"axis":{"values":[-10,-5,0,5,10],"title":"Ratings of Liking"}},"color":{"field":"r","type":"nominal","scale":{"domain":["High","Low","Very Low"],"range":["#FF0000","#008B00","#0000FF"]},"legend":{"orient":"none","legendX":317,"legendY":-93,"direction":"horizontal","titleOrient":"left","title":"RewardType","symbolType":"stroke","symbolSize":400,"symbolStrokeWidth":2.5,"strokeColor":"#000000","padding":12,"titleFontSize":20,"titleFontWeight":"normal","titleColor":"#000000","labelFontSize":16.5,"labelColor":"#000000","labelOffset":9,"columnPadding":8,"titlePadding":8}}}}
]},
{"title":"Liking - Naltrexone","width":310,"height":231,"layer":[
{"data":{"name":"pts"},"transform":[{"filter":"datum.b=='Liking'&&datum.d=='Naltrexone'"},{"flatten":["v"]},{"joinaggregate":[{"op":"min","field":"v","as":"lo"},{"op":"max","field":"v","as":"hi"}],"groupby":["c","r"]},{"density":"v","groupby":["c","r","lo","hi"],"bandwidth":1.1,"steps":400,"as":["val","dens"]},{"filter":"datum.val>=datum.lo-0.0001&&datum.val<=datum.hi+0.0001"},{"joinaggregate":[{"op":"max","field":"dens","as":"dmax"}]},{"calculate":"(datum.c=='Nonsocial'?1:2)+(datum.r=='High'?-0.3:(datum.r=='Low'?0:0.3))","as":"xc"},{"calculate":"datum.xc-0.15*datum.dens/datum.dmax","as":"xl"},{"calculate":"datum.xc+0.15*datum.dens/datum.dmax","as":"xr"}],
"mark":{"type":"area","orient":"horizontal","fillOpacity":0,"stroke":"#aaaaaa","strokeWidth":1.2},
"encoding":{"y":{"field":"val","type":"quantitative","scale":{"domain":[-10.58,10.98],"nice":false,"zero":false},"axis":{"values":[-10,-5,0,5,10],"title":"Ratings of Liking"}},"x":{"field":"xl","type":"quantitative","stack":null,"scale":{"domain":[0.4,2.6],"nice":false,"zero":false},"axis":{"values":[1,2],"labelExpr":"datum.value==1?'Nonsocial':'Social'","title":"Condition"}},"x2":{"field":"xr"},"detail":[{"field":"c"},{"field":"r"}]}},
{"data":{"name":"pts"},"transform":[{"filter":"datum.b=='Liking'&&datum.d=='Naltrexone'"},{"flatten":["v"]},{"window":[{"op":"row_number","as":"rn"}],"groupby":["c","r"]},{"calculate":"(datum.c=='Nonsocial'?1:2)+(datum.r=='High'?-0.3:(datum.r=='Low'?0:0.3))","as":"xc"},{"calculate":"datum.xc+0.2*((datum.rn*0.618034)%1-0.5)","as":"xj"}],
"mark":{"type":"point","shape":"M-1,0L1,0M0,-1L0,1","filled":false,"size":30,"strokeWidth":1.3,"opacity":0.75},
"encoding":{"x":{"field":"xj","type":"quantitative","scale":{"domain":[0.4,2.6],"nice":false,"zero":false},"axis":{"values":[1,2],"labelExpr":"datum.value==1?'Nonsocial':'Social'","title":"Condition"}},"y":{"field":"v","type":"quantitative","scale":{"domain":[-10.58,10.98],"nice":false,"zero":false},"axis":{"values":[-10,-5,0,5,10],"title":"Ratings of Liking"}},"color":{"field":"r","type":"nominal","scale":{"domain":["High","Low","Very Low"],"range":["#FF0000","#008B00","#0000FF"]},"legend":{"orient":"none","legendX":317,"legendY":-93,"direction":"horizontal","titleOrient":"left","title":"RewardType","symbolType":"stroke","symbolSize":400,"symbolStrokeWidth":2.5,"strokeColor":"#000000","padding":12,"titleFontSize":20,"titleFontWeight":"normal","titleColor":"#000000","labelFontSize":16.5,"labelColor":"#000000","labelOffset":9,"columnPadding":8,"titlePadding":8}}}},
{"data":{"name":"means"},"transform":[{"filter":"datum.b=='Liking'&&datum.d=='Naltrexone'"},{"calculate":"(datum.c=='Nonsocial'?1:2)+(datum.r=='High'?-0.3:(datum.r=='Low'?0:0.3))","as":"xc"},{"calculate":"datum.xc-0.15","as":"x1"},{"calculate":"datum.xc+0.15","as":"x2"}],
"mark":{"type":"rule","strokeWidth":7,"strokeCap":"butt"},
"encoding":{"x":{"field":"x1","type":"quantitative","scale":{"domain":[0.4,2.6],"nice":false,"zero":false},"axis":{"values":[1,2],"labelExpr":"datum.value==1?'Nonsocial':'Social'","title":"Condition"}},"x2":{"field":"x2"},"y":{"field":"m","type":"quantitative","scale":{"domain":[-10.58,10.98],"nice":false,"zero":false},"axis":{"values":[-10,-5,0,5,10],"title":"Ratings of Liking"}},"color":{"field":"r","type":"nominal","scale":{"domain":["High","Low","Very Low"],"range":["#FF0000","#008B00","#0000FF"]},"legend":{"orient":"none","legendX":317,"legendY":-93,"direction":"horizontal","titleOrient":"left","title":"RewardType","symbolType":"stroke","symbolSize":400,"symbolStrokeWidth":2.5,"strokeColor":"#000000","padding":12,"titleFontSize":20,"titleFontWeight":"normal","titleColor":"#000000","labelFontSize":16.5,"labelColor":"#000000","labelOffset":9,"columnPadding":8,"titlePadding":8}}}}
]},
{"title":"Liking - Placebo","width":310,"height":231,"layer":[
{"data":{"name":"pts"},"transform":[{"filter":"datum.b=='Liking'&&datum.d=='Placebo'"},{"flatten":["v"]},{"joinaggregate":[{"op":"min","field":"v","as":"lo"},{"op":"max","field":"v","as":"hi"}],"groupby":["c","r"]},{"density":"v","groupby":["c","r","lo","hi"],"bandwidth":1.1,"steps":400,"as":["val","dens"]},{"filter":"datum.val>=datum.lo-0.0001&&datum.val<=datum.hi+0.0001"},{"joinaggregate":[{"op":"max","field":"dens","as":"dmax"}]},{"calculate":"(datum.c=='Nonsocial'?1:2)+(datum.r=='High'?-0.3:(datum.r=='Low'?0:0.3))","as":"xc"},{"calculate":"datum.xc-0.15*datum.dens/datum.dmax","as":"xl"},{"calculate":"datum.xc+0.15*datum.dens/datum.dmax","as":"xr"}],
"mark":{"type":"area","orient":"horizontal","fillOpacity":0,"stroke":"#aaaaaa","strokeWidth":1.2},
"encoding":{"y":{"field":"val","type":"quantitative","scale":{"domain":[-10.27,10.97],"nice":false,"zero":false},"axis":{"values":[-10,-5,0,5,10],"title":"Ratings of Liking"}},"x":{"field":"xl","type":"quantitative","stack":null,"scale":{"domain":[0.4,2.6],"nice":false,"zero":false},"axis":{"values":[1,2],"labelExpr":"datum.value==1?'Nonsocial':'Social'","title":"Condition"}},"x2":{"field":"xr"},"detail":[{"field":"c"},{"field":"r"}]}},
{"data":{"name":"pts"},"transform":[{"filter":"datum.b=='Liking'&&datum.d=='Placebo'"},{"flatten":["v"]},{"window":[{"op":"row_number","as":"rn"}],"groupby":["c","r"]},{"calculate":"(datum.c=='Nonsocial'?1:2)+(datum.r=='High'?-0.3:(datum.r=='Low'?0:0.3))","as":"xc"},{"calculate":"datum.xc+0.2*((datum.rn*0.618034)%1-0.5)","as":"xj"}],
"mark":{"type":"point","shape":"M-1,0L1,0M0,-1L0,1","filled":false,"size":30,"strokeWidth":1.3,"opacity":0.75},
"encoding":{"x":{"field":"xj","type":"quantitative","scale":{"domain":[0.4,2.6],"nice":false,"zero":false},"axis":{"values":[1,2],"labelExpr":"datum.value==1?'Nonsocial':'Social'","title":"Condition"}},"y":{"field":"v","type":"quantitative","scale":{"domain":[-10.27,10.97],"nice":false,"zero":false},"axis":{"values":[-10,-5,0,5,10],"title":"Ratings of Liking"}},"color":{"field":"r","type":"nominal","scale":{"domain":["High","Low","Very Low"],"range":["#FF0000","#008B00","#0000FF"]},"legend":{"orient":"none","legendX":317,"legendY":-93,"direction":"horizontal","titleOrient":"left","title":"RewardType","symbolType":"stroke","symbolSize":400,"symbolStrokeWidth":2.5,"strokeColor":"#000000","padding":12,"titleFontSize":20,"titleFontWeight":"normal","titleColor":"#000000","labelFontSize":16.5,"labelColor":"#000000","labelOffset":9,"columnPadding":8,"titlePadding":8}}}},
{"data":{"name":"means"},"transform":[{"filter":"datum.b=='Liking'&&datum.d=='Placebo'"},{"calculate":"(datum.c=='Nonsocial'?1:2)+(datum.r=='High'?-0.3:(datum.r=='Low'?0:0.3))","as":"xc"},{"calculate":"datum.xc-0.15","as":"x1"},{"calculate":"datum.xc+0.15","as":"x2"}],
"mark":{"type":"rule","strokeWidth":7,"strokeCap":"butt"},
"encoding":{"x":{"field":"x1","type":"quantitative","scale":{"domain":[0.4,2.6],"nice":false,"zero":false},"axis":{"values":[1,2],"labelExpr":"datum.value==1?'Nonsocial':'Social'","title":"Condition"}},"x2":{"field":"x2"},"y":{"field":"m","type":"quantitative","scale":{"domain":[-10.27,10.97],"nice":false,"zero":false},"axis":{"values":[-10,-5,0,5,10],"title":"Ratings of Liking"}},"color":{"field":"r","type":"nominal","scale":{"domain":["High","Low","Very Low"],"range":["#FF0000","#008B00","#0000FF"]},"legend":{"orient":"none","legendX":317,"legendY":-93,"direction":"horizontal","titleOrient":"left","title":"RewardType","symbolType":"stroke","symbolSize":400,"symbolStrokeWidth":2.5,"strokeColor":"#000000","padding":12,"titleFontSize":20,"titleFontWeight":"normal","titleColor":"#000000","labelFontSize":16.5,"labelColor":"#000000","labelOffset":9,"columnPadding":8,"titlePadding":8}}}}
]}
],
"config":{
"font":"DejaVu Sans",
"view":{"stroke":null},
"axis":{"grid":false,"domainColor":"#000000","domainWidth":1.1,"tickColor":"#333333","tickWidth":1.1,"tickSize":5,"labelColor":"#4D4D4D","titleColor":"#000000","titleFontWeight":"normal","titleFontSize":19,"labelFlush":false},
"axisX":{"labelFontSize":17,"labelPadding":7,"titlePadding":14},
"axisY":{"labelFontSize":16,"labelPadding":2,"titlePadding":7},
"title":{"fontSize":18,"fontWeight":"bold","color":"#000000","offset":9}
}
}
